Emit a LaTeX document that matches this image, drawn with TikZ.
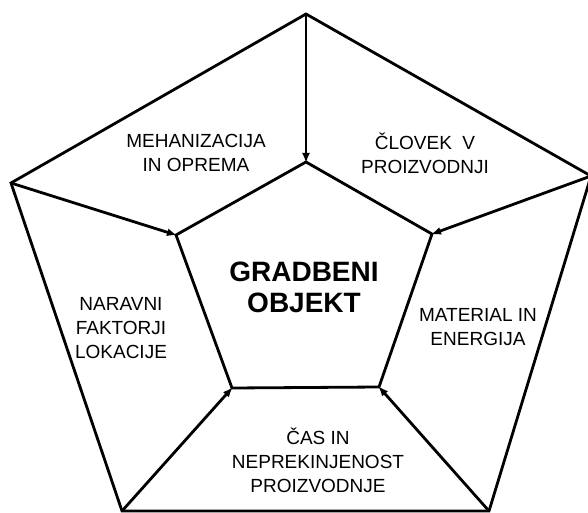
\documentclass[tikz,border=0pt]{standalone}
\usepackage{fontspec}
\setmainfont{Liberation Sans}
\usetikzlibrary{arrows.meta}
\begin{document}
\begin{tikzpicture}[x=1pt,y=-1pt,
  edge/.style={line width=2.8pt, line join=miter},
  arr/.style={line width=2.8pt, -{Latex[length=10pt,width=8pt]}, shorten >=-1pt},
  lbl/.style={align=center, font=\fontsize{19}{24}\selectfont, inner sep=0pt},
  title/.style={align=center, font=\fontsize{28}{31}\selectfont\bfseries, inner sep=0pt}]
\useasboundingbox (0,0) rectangle (588,513);
% outer vertices
\coordinate (oT) at (306,14);
\coordinate (oR) at (591,176);
\coordinate (oBR) at (489,511);
\coordinate (oBL) at (122,511);
\coordinate (oL) at (11,183);
% inner vertices
\coordinate (iT) at (306,162);
\coordinate (iR) at (432,234);
\coordinate (iBR) at (379,387);
\coordinate (iBL) at (232,388);
\coordinate (iL) at (176,235);
% pentagons
\draw[edge] (oT) -- (oR) -- (oBR) -- (oBL) -- (oL) -- cycle;
\draw[edge] (iT) -- (iR) -- (iBR) -- (iBL) -- (iL) -- cycle;
% arrows
\draw[arr] (oT) -- (iT);
\draw[arr] (oR) -- (iR);
\draw[arr] (oBR) -- (iBR);
\draw[arr] (oBL) -- (iBL);
\draw[arr] (oL) -- (iL);
% labels
\node[lbl] (meh) at (196,153) {MEHANIZACIJA\\IN OPREMA};
\node[lbl] (clo) at (425,153) {ČLOVEK\ \ V\\PROIZVODNJI};
\node[title] (obj) at (304,287) {GRADBENI\\OBJEKT};
\node[lbl] (nar) at (121,328) {NARAVNI\\FAKTORJI\\LOKACIJE};
\node[lbl] (mat) at (478,327) {MATERIAL IN\\ENERGIJA};
\node[lbl] (cas) at (318,460) {ČAS IN\\NEPREKINJENOST\\PROIZVODNJE};
\end{tikzpicture}
\end{document}
